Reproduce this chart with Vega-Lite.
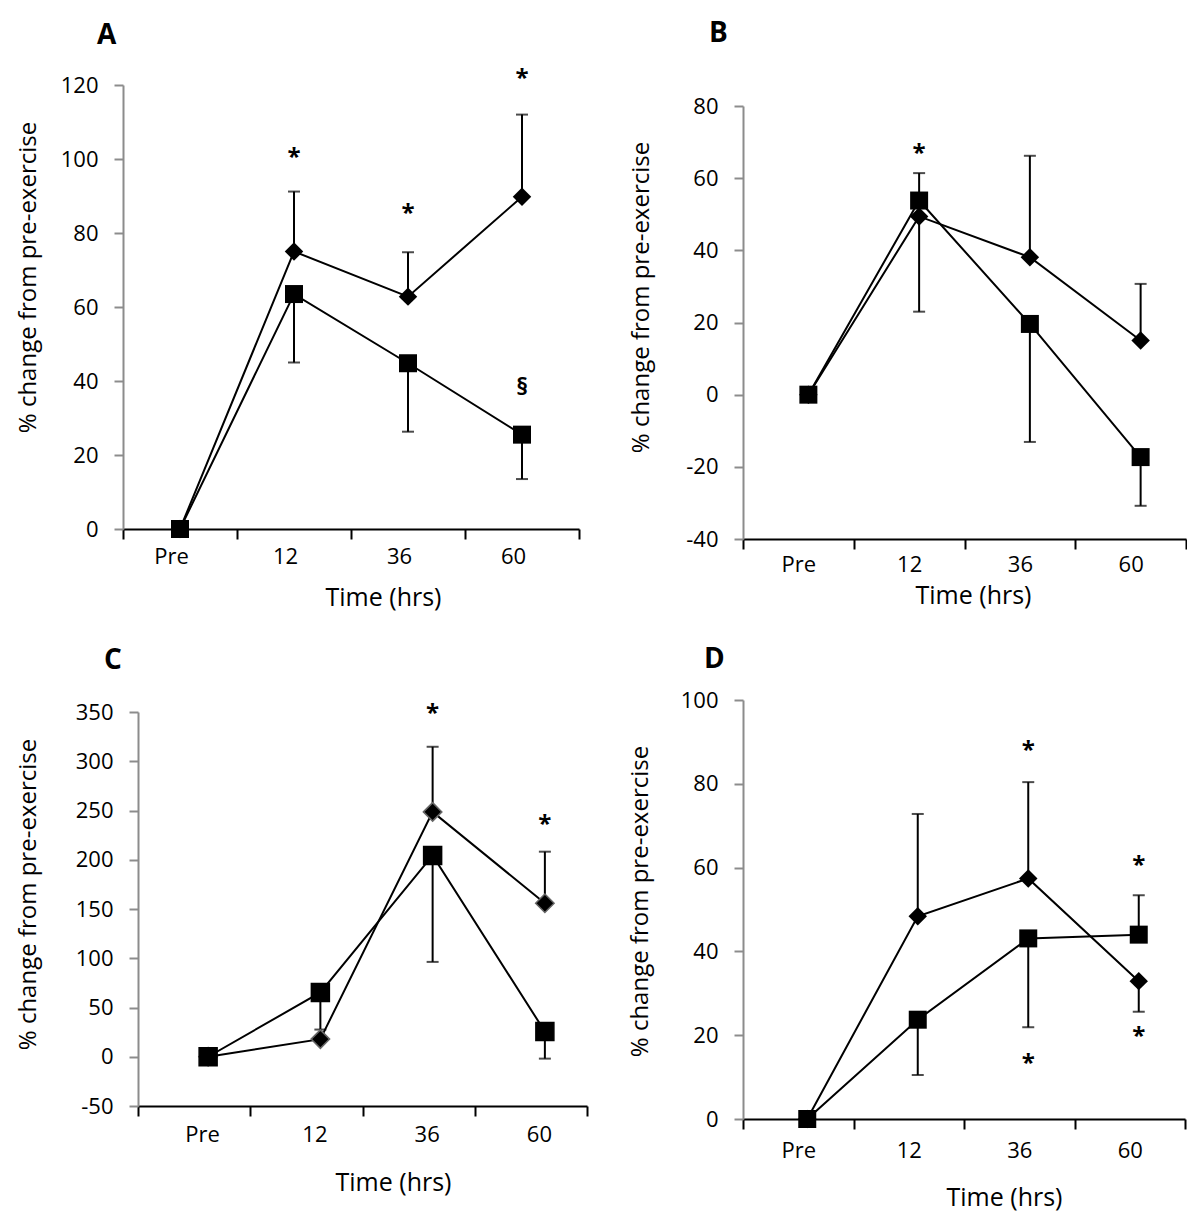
{
  "$schema": "https://vega.github.io/schema/vega-lite/v6.json",
  "background": "white",
  "padding": {"left": 15, "top": 20, "right": 0, "bottom": 8},
  "config": {
    "view": {"stroke": null},
    "font": "Open Sans",
    "axis": {"labelFont": "Open Sans", "titleFont": "Open Sans", "labelColor": "black", "titleColor": "black", "grid": false, "titleFontWeight": "normal"},
    "title": {"font": "Open Sans", "color": "black"}
  },
  "datasets": {
    "A": [
      {"time": "Pre", "series": "diamond", "value": 0, "err": null},
      {"time": "12", "series": "diamond", "value": 75, "err": 91.2},
      {"time": "36", "series": "diamond", "value": 62.8, "err": 74.8},
      {"time": "60", "series": "diamond", "value": 89.8, "err": 112},
      {"time": "Pre", "series": "square", "value": 0, "err": null},
      {"time": "12", "series": "square", "value": 63.5, "err": 45},
      {"time": "36", "series": "square", "value": 44.8, "err": 26.3},
      {"time": "60", "series": "square", "value": 25.5, "err": 13.5}
    ],
    "A_ann": [
      {"time": "12", "label": "*", "value": 101.6},
      {"time": "36", "label": "*", "value": 86.6},
      {"time": "60", "label": "*", "value": 123},
      {"time": "60", "label": "§", "value": 39.5}
    ],
    "B": [
      {"time": "Pre", "series": "diamond", "value": 0, "err": null},
      {"time": "12", "series": "diamond", "value": 49.4, "err": 23},
      {"time": "36", "series": "diamond", "value": 38.1, "err": 66.2},
      {"time": "60", "series": "diamond", "value": 15, "err": 30.7},
      {"time": "Pre", "series": "square", "value": 0, "err": null},
      {"time": "12", "series": "square", "value": 53.8, "err": 61.4},
      {"time": "36", "series": "square", "value": 19.6, "err": -13.1},
      {"time": "60", "series": "square", "value": -17.3, "err": -30.8}
    ],
    "B_ann": [
      {"time": "12", "label": "*", "value": 68}
    ],
    "C": [
      {"time": "Pre", "series": "diamond", "value": 0, "err": null},
      {"time": "12", "series": "diamond", "value": 17.9, "err": null},
      {"time": "36", "series": "diamond", "value": 248.6, "err": 314.7},
      {"time": "60", "series": "diamond", "value": 155.8, "err": 208.2},
      {"time": "Pre", "series": "square", "value": 0, "err": null},
      {"time": "12", "series": "square", "value": 65.3, "err": 27.6},
      {"time": "36", "series": "square", "value": 204.4, "err": 96.3},
      {"time": "60", "series": "square", "value": 25.6, "err": -1.9}
    ],
    "C_ann": [
      {"time": "36", "label": "*", "value": 353.5},
      {"time": "60", "label": "*", "value": 240}
    ],
    "D": [
      {"time": "Pre", "series": "diamond", "value": 0, "err": null},
      {"time": "12", "series": "diamond", "value": 48.4, "err": 72.8},
      {"time": "36", "series": "diamond", "value": 57.4, "err": 80.4},
      {"time": "60", "series": "diamond", "value": 32.9, "err": 25.6},
      {"time": "Pre", "series": "square", "value": 0, "err": null},
      {"time": "12", "series": "square", "value": 23.7, "err": 10.5},
      {"time": "36", "series": "square", "value": 43.1, "err": 21.9},
      {"time": "60", "series": "square", "value": 44, "err": 53.4}
    ],
    "D_ann": [
      {"time": "36", "label": "*", "value": 89},
      {"time": "36", "label": "*", "value": 14.3},
      {"time": "60", "label": "*", "value": 61.5},
      {"time": "60", "label": "*", "value": 20.8}
    ]
  },
  "spacing": 33,
  "hconcat": [
    {
      "spacing": 37,
      "vconcat": [
        {
          "width": 441, "height": 423,
          "title": {"text": "A", "anchor": "start", "frame": "group", "dx": -41, "offset": -5, "baseline": "alphabetic", "fontSize": 28, "fontWeight": "bold"},
          "data": {"name": "A"},
          "encoding": {
            "x": {"field": "time", "type": "ordinal", "sort": ["Pre", "12", "36", "60"],
              "scale": {"type": "band", "domain": ["Pre", "12", "36", "60"], "paddingInner": 0, "paddingOuter": 0, "range": [-15, 441]},
              "axis": {"title": "Time (hrs)", "tickBand": "extent", "domainColor": "black", "domainWidth": 2, "tickColor": "black", "tickWidth": 2, "tickSize": 10, "labelAngle": 0, "labelPadding": 7, "labelOffset": -9, "labelFontSize": 22, "titleFontSize": 25, "titleX": 245, "titleY": 68, "titleBaseline": "middle"}},
            "y": {"field": "value", "type": "quantitative", "title": "% change from pre-exercise",
              "scale": {"domain": [0, 120], "nice": false, "zero": false, "range": [423, -21]},
              "axis": {"values": [0, 20, 40, 60, 80, 100, 120], "offset": 15, "labelExpr": "replace(datum.label, '\u2212', '-')", "domainColor": "#8c8c8c", "domainWidth": 2, "tickColor": "#8c8c8c", "tickWidth": 2, "tickSize": 9, "labelPadding": 16, "labelFontSize": 22, "titleFontSize": 24, "titleX": -95, "titleY": 171, "titleBaseline": "middle"}}
          },
          "layer": [
            {"mark": {"type": "line", "color": "black", "strokeWidth": 2}, "encoding": {"detail": {"field": "series"}}},
            {"transform": [{"filter": "datum.err != null"}], "mark": {"type": "rule", "color": "black", "strokeWidth": 2}, "encoding": {"y2": {"field": "err"}}},
            {"transform": [{"filter": "datum.err != null"}], "mark": {"type": "tick", "color": "black", "thickness": 2, "size": 12}, "encoding": {"y": {"field": "err", "type": "quantitative", "title": "% change from pre-exercise"}}},
            {"mark": {"type": "point", "filled": true, "fill": "black", "opacity": 1},
              "encoding": {
                "shape": {"field": "series", "type": "nominal", "scale": {"domain": ["diamond", "square"], "range": ["diamond", "square"]}, "legend": null},
                "size": {"field": "series", "type": "nominal", "scale": {"domain": ["diamond", "square"], "range": [340, 324]}, "legend": null}}},
            {"data": {"name": "A_ann"}, "mark": {"type": "text", "fontSize": 24, "fontWeight": "bold", "baseline": "middle", "dy": 5, "color": "black"}, "encoding": {"text": {"field": "label"}}}
          ]
        },
        {
          "width": 449, "height": 394,
          "title": {"text": "C", "anchor": "start", "frame": "group", "dx": -34, "offset": 4, "baseline": "alphabetic", "fontSize": 28, "fontWeight": "bold"},
          "data": {"name": "C"},
          "encoding": {
            "x": {"field": "time", "type": "ordinal", "sort": ["Pre", "12", "36", "60"],
              "scale": {"type": "band", "domain": ["Pre", "12", "36", "60"], "paddingInner": 0, "paddingOuter": 0},
              "axis": {"title": "Time (hrs)", "tickBand": "extent", "domainColor": "black", "domainWidth": 2, "tickColor": "black", "tickWidth": 2, "tickSize": 10, "labelAngle": 0, "labelPadding": 8, "labelOffset": 8, "labelFontSize": 22, "titleFontSize": 25, "titleX": 255, "titleY": 76, "titleBaseline": "middle"}},
            "y": {"field": "value", "type": "quantitative", "title": "% change from pre-exercise",
              "scale": {"domain": [-50, 350], "nice": false, "zero": false},
              "axis": {"values": [-50, 0, 50, 100, 150, 200, 250, 300, 350], "labelExpr": "replace(datum.label, '\u2212', '-')", "domainColor": "#8c8c8c", "domainWidth": 2, "tickColor": "#8c8c8c", "tickWidth": 2, "tickSize": 9, "labelPadding": 16, "labelFontSize": 22, "titleFontSize": 24, "titleX": -110, "titleY": 182, "titleBaseline": "middle"}}
          },
          "layer": [
            {"mark": {"type": "line", "color": "black", "strokeWidth": 2, "xOffset": 14}, "encoding": {"detail": {"field": "series"}}},
            {"transform": [{"filter": "datum.err != null"}], "mark": {"type": "rule", "color": "black", "strokeWidth": 2, "xOffset": 14}, "encoding": {"y2": {"field": "err"}}},
            {"transform": [{"filter": "datum.err != null"}], "mark": {"type": "tick", "color": "black", "thickness": 2, "size": 12, "xOffset": 14}, "encoding": {"y": {"field": "err", "type": "quantitative", "title": "% change from pre-exercise"}}},
            {"mark": {"type": "point", "filled": true, "fill": "black", "opacity": 1, "strokeWidth": 1.5, "xOffset": 14},
              "encoding": {
                "shape": {"field": "series", "type": "nominal", "scale": {"domain": ["diamond", "square"], "range": ["diamond", "square"]}, "legend": null},
                "size": {"field": "series", "type": "nominal", "scale": {"domain": ["diamond", "square"], "range": [340, 324]}, "legend": null},
                "stroke": {"field": "series", "type": "nominal", "scale": {"domain": ["diamond", "square"], "range": ["#666666", "black"]}, "legend": null}}},
            {"data": {"name": "C_ann"}, "mark": {"type": "text", "fontSize": 24, "fontWeight": "bold", "baseline": "middle", "dy": 5, "color": "black", "xOffset": 14}, "encoding": {"text": {"field": "label"}}}
          ]
        }
      ]
    },
    {
      "spacing": 38,
      "vconcat": [
        {
          "width": 443, "height": 433,
          "title": {"text": "B", "anchor": "start", "frame": "group", "dx": -34, "offset": 25, "baseline": "alphabetic", "fontSize": 28, "fontWeight": "bold"},
          "data": {"name": "B"},
          "encoding": {
            "x": {"field": "time", "type": "ordinal", "sort": ["Pre", "12", "36", "60"],
              "scale": {"type": "band", "domain": ["Pre", "12", "36", "60"], "paddingInner": 0, "paddingOuter": 0},
              "axis": {"title": "Time (hrs)", "tickBand": "extent", "domainColor": "black", "domainWidth": 2, "tickColor": "black", "tickWidth": 2, "tickSize": 10, "labelAngle": 0, "labelPadding": 5, "labelOffset": 0, "labelFontSize": 22, "titleFontSize": 25, "titleX": 230, "titleY": 56, "titleBaseline": "middle"}},
            "y": {"field": "value", "type": "quantitative", "title": "% change from pre-exercise",
              "scale": {"domain": [-40, 80], "nice": false, "zero": false},
              "axis": {"values": [-40, -20, 0, 20, 40, 60, 80], "labelExpr": "replace(datum.label, '\u2212', '-')", "domainColor": "#8c8c8c", "domainWidth": 2, "tickColor": "#8c8c8c", "tickWidth": 2, "tickSize": 9, "labelPadding": 16, "labelFontSize": 22, "titleFontSize": 24, "titleX": -102, "titleY": 191, "titleBaseline": "middle"}}
          },
          "layer": [
            {"mark": {"type": "line", "color": "black", "strokeWidth": 2, "xOffset": 10}, "encoding": {"detail": {"field": "series"}}},
            {"transform": [{"filter": "datum.err != null"}], "mark": {"type": "rule", "color": "black", "strokeWidth": 2, "xOffset": 10}, "encoding": {"y2": {"field": "err"}}},
            {"transform": [{"filter": "datum.err != null"}], "mark": {"type": "tick", "color": "black", "thickness": 2, "size": 12, "xOffset": 10}, "encoding": {"y": {"field": "err", "type": "quantitative", "title": "% change from pre-exercise"}}},
            {"mark": {"type": "point", "filled": true, "fill": "black", "opacity": 1, "xOffset": 10},
              "encoding": {
                "shape": {"field": "series", "type": "nominal", "scale": {"domain": ["diamond", "square"], "range": ["diamond", "square"]}, "legend": null},
                "size": {"field": "series", "type": "nominal", "scale": {"domain": ["diamond", "square"], "range": [340, 324]}, "legend": null}}},
            {"data": {"name": "B_ann"}, "mark": {"type": "text", "fontSize": 24, "fontWeight": "bold", "baseline": "middle", "dy": 5, "color": "black", "xOffset": 10}, "encoding": {"text": {"field": "label"}}}
          ]
        },
        {
          "width": 442, "height": 419,
          "title": {"text": "D", "anchor": "start", "frame": "group", "dx": -39, "offset": -7, "baseline": "alphabetic", "fontSize": 28, "fontWeight": "bold"},
          "data": {"name": "D"},
          "encoding": {
            "x": {"field": "time", "type": "ordinal", "sort": ["Pre", "12", "36", "60"],
              "scale": {"type": "band", "domain": ["Pre", "12", "36", "60"], "paddingInner": 0, "paddingOuter": 0},
              "axis": {"title": "Time (hrs)", "tickBand": "extent", "domainColor": "black", "domainWidth": 2, "tickColor": "black", "tickWidth": 2, "tickSize": 10, "labelAngle": 0, "labelPadding": 11, "labelOffset": 0, "labelFontSize": 22, "titleFontSize": 25, "titleX": 261, "titleY": 78, "titleBaseline": "middle"}},
            "y": {"field": "value", "type": "quantitative", "title": "% change from pre-exercise",
              "scale": {"domain": [0, 100], "nice": false, "zero": false},
              "axis": {"values": [0, 20, 40, 60, 80, 100], "labelExpr": "replace(datum.label, '\u2212', '-')", "domainColor": "#8c8c8c", "domainWidth": 2, "tickColor": "#8c8c8c", "tickWidth": 2, "tickSize": 9, "labelPadding": 16, "labelFontSize": 22, "titleFontSize": 24, "titleX": -103, "titleY": 201, "titleBaseline": "middle"}}
          },
          "layer": [
            {"mark": {"type": "line", "color": "black", "strokeWidth": 2, "xOffset": 9}, "encoding": {"detail": {"field": "series"}}},
            {"transform": [{"filter": "datum.err != null"}], "mark": {"type": "rule", "color": "black", "strokeWidth": 2, "xOffset": 9}, "encoding": {"y2": {"field": "err"}}},
            {"transform": [{"filter": "datum.err != null"}], "mark": {"type": "tick", "color": "black", "thickness": 2, "size": 12, "xOffset": 9}, "encoding": {"y": {"field": "err", "type": "quantitative", "title": "% change from pre-exercise"}}},
            {"mark": {"type": "point", "filled": true, "fill": "black", "opacity": 1, "xOffset": 9},
              "encoding": {
                "shape": {"field": "series", "type": "nominal", "scale": {"domain": ["diamond", "square"], "range": ["diamond", "square"]}, "legend": null},
                "size": {"field": "series", "type": "nominal", "scale": {"domain": ["diamond", "square"], "range": [340, 324]}, "legend": null}}},
            {"data": {"name": "D_ann"}, "mark": {"type": "text", "fontSize": 24, "fontWeight": "bold", "baseline": "middle", "dy": 5, "color": "black", "xOffset": 9}, "encoding": {"text": {"field": "label"}}}
          ]
        }
      ]
    }
  ]
}
